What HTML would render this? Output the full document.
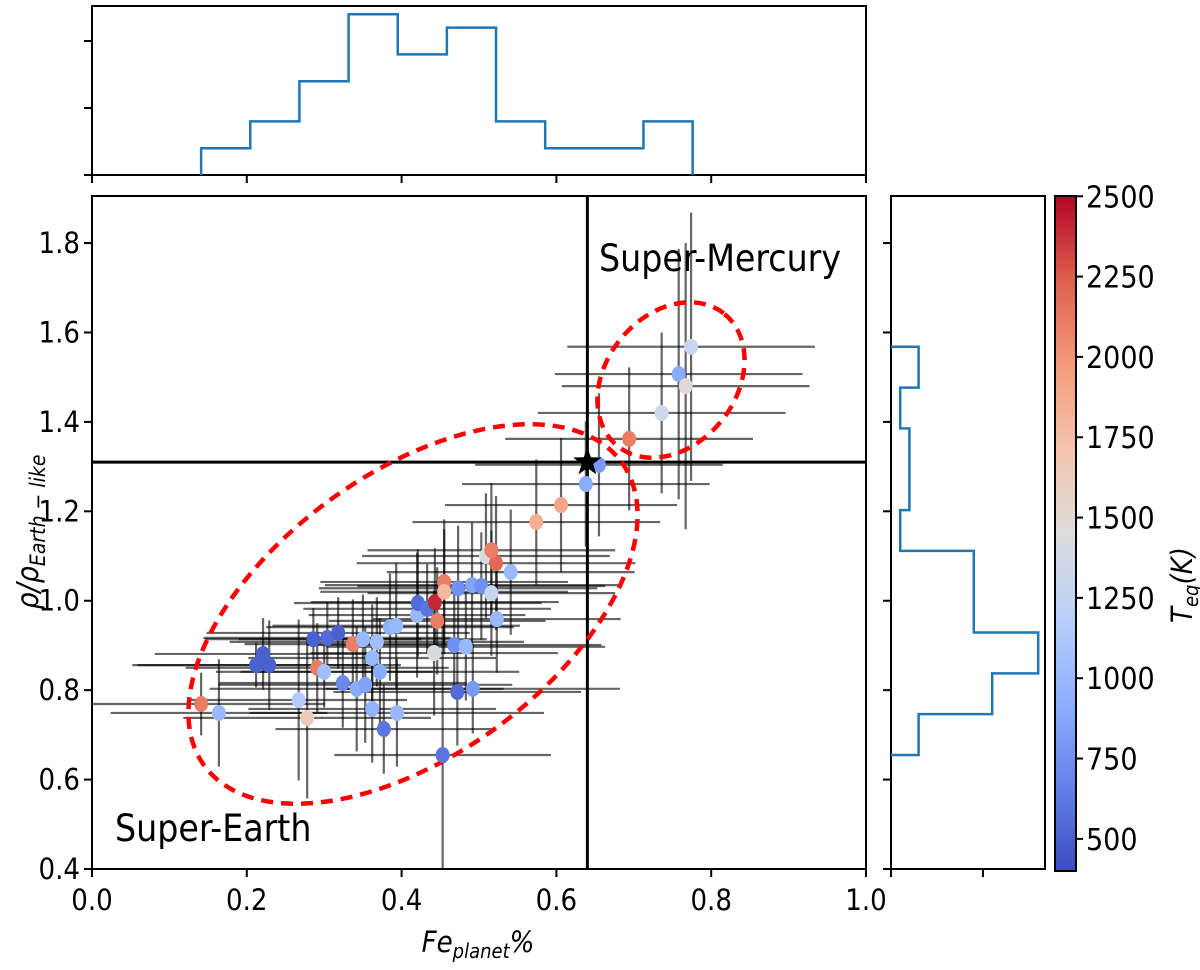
<!DOCTYPE html>
<html><head><meta charset="utf-8"><style>
body{margin:0;background:#fff;}
svg text{font-family:"DejaVu Sans Condensed","DejaVu Sans","Liberation Sans",sans-serif;font-stretch:condensed;}
</style></head><body>
<svg id="fig" width="1200" height="965" viewBox="0 0 1200 965" xmlns="http://www.w3.org/2000/svg">
<defs>
<linearGradient id="cmap" x1="0" y1="1" x2="0" y2="0">
<stop offset="0" stop-color="rgb(59,76,192)"/><stop offset="0.125" stop-color="rgb(98,130,234)"/>
<stop offset="0.25" stop-color="rgb(141,176,254)"/><stop offset="0.375" stop-color="rgb(184,208,249)"/>
<stop offset="0.5" stop-color="rgb(221,221,221)"/><stop offset="0.625" stop-color="rgb(245,196,173)"/>
<stop offset="0.75" stop-color="rgb(244,154,123)"/><stop offset="0.875" stop-color="rgb(222,96,77)"/>
<stop offset="1" stop-color="rgb(180,4,38)"/></linearGradient>
<clipPath id="mainclip"><rect x="92" y="196" width="774" height="673"/></clipPath>
</defs>
<g id="errs" clip-path="url(#mainclip)"></g>
<g id="refs"></g>
<g id="ells"></g>
<g id="pts"></g>
<g id="axes"></g>
<text x="599" y="271" font-size="37">Super-Mercury</text>
<text x="115" y="841" font-size="37">Super-Earth</text>
<text x="478" y="952" font-size="29" text-anchor="middle" font-style="italic">Fe<tspan font-size="20" dy="6">planet</tspan><tspan dy="-6">%</tspan></text>
<text transform="translate(38,532) rotate(-90)" font-size="30" text-anchor="middle" font-style="italic">ρ/ρ<tspan font-size="21" dy="7">Earth − like</tspan></text>
<text transform="translate(1192,585) rotate(-90)" font-size="29" text-anchor="middle" font-style="italic">T<tspan font-size="20" dy="6">eq</tspan><tspan dy="-6">(K)</tspan></text>
</svg>
<script>
const feVals=[.141,.164,.212,.221,.229,.267,.278,.291,.286,.304,.318,.337,.350,.368,.362,.372,.300,.324,.342,.353,.362,.394,.377,.385,.393,.420,.421,.433,.443,.446,.455,.455,.473,.491,.503,.468,.483,.442,.472,.492,.453,.509,.522,.516,.541,.516,.523,.574,.606,.638,.655,.694,.736,.758,.767,.774];
const rhoVals=[.769,.749,.856,.881,.856,.778,.738,.850,.914,.917,.928,.903,.914,.908,.872,.841,.841,.816,.803,.812,.758,.749,.713,.941,.944,.968,.995,.982,.997,.955,1.042,1.020,1.028,1.035,1.033,.901,.897,.883,.796,.803,.655,1.100,1.084,1.113,1.064,1.017,.959,1.176,1.214,1.261,1.304,1.362,1.420,1.507,1.480,1.568];
const teqVals=[2100,1000,500,500,500,1150,1650,2100,500,550,500,2100,1000,1050,1000,900,1050,700,900,850,950,1000,600,950,1000,1000,550,600,2400,2100,2100,1800,750,850,750,750,1000,1400,550,800,600,1400,2200,2100,1000,1300,1000,1850,1900,900,800,2100,1350,900,1500,1300];
const feErr=[.16,.14,.16,.14,.17,.14,.16,.17,.14,.16,.17,.14,.16,.19,.16,.18,.14,.16,.19,.19,.16,.19,.14,.16,.16,.14,.16,.16,.16,.14,.16,.16,.18,.19,.16,.19,.18,.16,.16,.19,.14,.16,.18,.16,.16,.16,.16,.16,.15,.16,.16,.16,.16,.16,.16,.16];
const rhoErr=[.07,.12,.05,.08,.10,.18,.18,.10,.07,.08,.08,.10,.10,.10,.12,.12,.08,.10,.14,.13,.12,.12,.10,.12,.14,.14,.12,.10,.12,.12,.14,.14,.14,.14,.12,.12,.12,.14,.12,.10,.30,.14,.15,.15,.14,.14,.12,.14,.15,.14,.16,.16,.18,.28,.32,.30];
const topCounts=[2,4,7,12,9,11,4,2,2,4];
const topEdges=[.141,.2045,.268,.3315,.395,.4585,.522,.5855,.649,.7125,.776];
const rightCounts=[3,11,16,9,9,1,2,2,1,3];
const rightEdges=[.655,.7463,.8376,.9289,1.0202,1.1115,1.2028,1.2941,1.3854,1.4767,1.568];
const xTicks=[0,.2,.4,.6,.8,1];
const yTicks=[.4,.6,.8,1,1.2,1.4,1.6,1.8];
const cbTicks=[500,750,1000,1250,1500,1750,2000,2250,2500];
const refFe=.64, refRho=1.31;

const NS="http://www.w3.org/2000/svg";
const X=v=>92+v*774, Y=v=>869-(v-0.4)*447.1;
const TY=c=>175-c*13.4, RX=c=>891+c*9.2, CB=t=>871-(t-400)*0.3213;
function mk(tag,at,parent){const e=document.createElementNS(NS,tag);for(const k in at)e.setAttribute(k,at[k]);document.getElementById(parent).appendChild(e);return e;}
const stops=[[59,76,192],[98,130,234],[141,176,254],[184,208,249],[221,221,221],[245,196,173],[244,154,123],[222,96,77],[180,4,38]];
function cw(t){let f=Math.max(0,Math.min(1,(t-400)/2100))*8;let i=Math.min(7,Math.floor(f)),u=f-i;const a=stops[i],b=stops[i+1];return `rgb(${a.map((v,k)=>Math.round(v+(b[k]-v)*u)).join(',')})`;}

for(let i=0;i<feVals.length;i++){
 let e=mk('line',{x1:X(feVals[i]-feErr[i]),x2:X(feVals[i]+feErr[i]),y1:Y(rhoVals[i]),y2:Y(rhoVals[i]),stroke:'rgba(0,0,0,0.6)','stroke-width':2.2},'errs');
 
 
 e=mk('line',{x1:X(feVals[i]),x2:X(feVals[i]),y1:Y(rhoVals[i]-rhoErr[i]),y2:Y(rhoVals[i]+rhoErr[i]),stroke:'rgba(0,0,0,0.6)','stroke-width':2.2},'errs');
 
 
}
let r=mk('line',{x1:X(refFe),x2:X(refFe),y1:196,y2:869,stroke:'#000','stroke-width':3},'refs');


r=mk('line',{x1:92,x2:866,y1:Y(refRho),y2:Y(refRho),stroke:'#000','stroke-width':3},'refs');


let el=mk('ellipse',{cx:413,cy:614,rx:258,ry:141,transform:'rotate(-36 413 614)',fill:'none',stroke:'#f00','stroke-width':4.5,'stroke-dasharray':'12 8'},'ells');


el=mk('ellipse',{cx:671,cy:380,rx:85,ry:65,transform:'rotate(-51 671 380)',fill:'none',stroke:'#f00','stroke-width':4.5,'stroke-dasharray':'12 8'},'ells');


for(let i=0;i<feVals.length;i++){
 const p=mk('ellipse',{cx:X(feVals[i]),cy:Y(rhoVals[i]),rx:7,ry:8,fill:cw(teqVals[i])},'pts');
 
 
}
{const cx=X(refFe),cy=Y(refRho);let d='';for(let k=0;k<10;k++){const rr=k%2?6:15,a=-Math.PI/2+k*Math.PI/5;d+=(k?'L':'M')+(cx+rr*Math.cos(a)).toFixed(1)+' '+(cy+rr*Math.sin(a)).toFixed(1);}
 const s=mk('path',{d:d+'Z',fill:'#000'},'pts');
 
 }
function frame(x,y,w,h,name){const f=mk('rect',{x,y,width:w,height:h,fill:'none',stroke:'#000','stroke-width':2},'axes');}
frame(92,196,774,673,'main-axes');
frame(92,6,774,169,'top-histogram-axes');
frame(891,196,154,673,'right-histogram-axes');
function tick(x1,y1,x2,y2){mk('line',{x1,y1,x2,y2,stroke:'#000','stroke-width':2},'axes');}
function lab(x,y,t,anchor,name,fs){const e=mk('text',{x,y,'font-size':fs,'text-anchor':anchor},'axes');e.textContent=t;}
xTicks.forEach(v=>{tick(X(v),869,X(v),877);tick(X(v),175,X(v),183);lab(X(v),910,v.toFixed(1),'middle','x-tick-label',29);});
yTicks.forEach(v=>{tick(92,Y(v),84,Y(v));tick(891,Y(v),883,Y(v));lab(80,Y(v)+10,v.toFixed(1),'end','y-tick-label',29);});
[0,5,10].forEach(c=>tick(92,TY(c),84,TY(c)));
[0,10].forEach(c=>tick(RX(c),869,RX(c),877));
{let d=`M${X(topEdges[0])} 175`;topCounts.forEach((c,i)=>{d+=`L${X(topEdges[i])} ${TY(c)}L${X(topEdges[i+1])} ${TY(c)}`;});d+=`L${X(topEdges[10])} 175`;
 const h=mk('path',{d,fill:'none',stroke:'#1f77b4','stroke-width':2.5},'axes');}
{let d=`M891 ${Y(rightEdges[0])}`;rightCounts.forEach((c,i)=>{d+=`L${RX(c)} ${Y(rightEdges[i])}L${RX(c)} ${Y(rightEdges[i+1])}`;});d+=`L891 ${Y(rightEdges[10])}`;
 const h=mk('path',{d,fill:'none',stroke:'#1f77b4','stroke-width':2.5},'axes');}
{const c=mk('rect',{x:1055,y:196,width:21,height:675,fill:'url(#cmap)',stroke:'#000','stroke-width':2},'axes');
 cbTicks.forEach(t=>{tick(1076,CB(t),1083,CB(t));lab(1086,CB(t)+11,String(t),'start','colorbar-tick-label',30);});}
</script>
</body></html>
